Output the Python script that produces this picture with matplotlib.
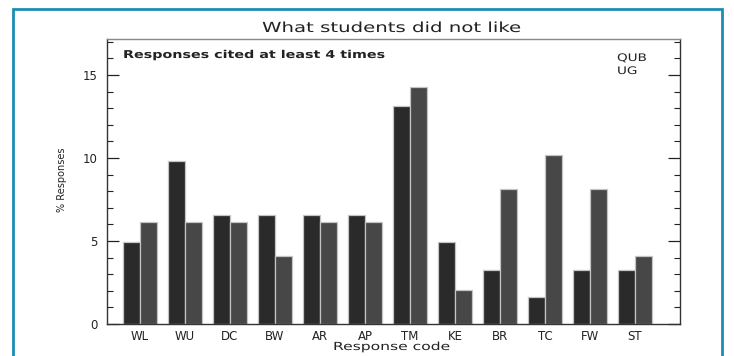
import matplotlib
matplotlib.use("Agg")
import matplotlib.pyplot as plt
from matplotlib.patches import Rectangle
from matplotlib.patheffects import AbstractPathEffect
from matplotlib.transforms import Affine2D
import numpy as np

# Response codes and percentage of responses per group
codes = ["WL", "WU", "DC", "BW", "AR", "AP", "TM", "KE", "BR", "TC", "FW", "ST"]
qub_pct = [4.92, 9.84, 6.56, 6.56, 6.56, 6.56, 13.11, 4.92, 3.28, 1.64, 3.28, 3.28]
ug_pct = [6.12, 6.12, 6.12, 4.08, 6.12, 6.12, 14.29, 2.04, 8.16, 10.20, 8.16, 4.08]
yticks = [0, 5, 10, 15]


class Widen(AbstractPathEffect):
    """Stretch glyphs horizontally from the text's left edge (wide plotter font look)."""

    def __init__(self, sx):
        super().__init__()
        self.sx = sx

    def draw_path(self, renderer, gc, tpath, affine, rgbFace=None):
        renderer.draw_path(gc, tpath, Affine2D().scale(self.sx, 1.0) + affine,
                           rgbFace)


W, H = 734, 356
fig = plt.figure(figsize=(W / 100, H / 100), dpi=100)
fig.patch.set_facecolor("white")

# Teal frame around the figure (open at the bottom)
fig.add_artist(Rectangle((13 / W, -0.1), (722 - 13) / W, 1.1 - 9 / H,
                         transform=fig.transFigure, fill=False,
                         edgecolor="#1d8db3", linewidth=2.0))

ax = fig.add_axes([107 / W, 1 - 324 / H, (680 - 107) / W, (324 - 39) / H])

x = np.arange(1, len(codes) + 1)
bw = 0.37
ax.bar(x - 0.195, qub_pct, width=bw, color="#2a2a2a", edgecolor="#c4c4c4",
       linewidth=0.9)
ax.bar(x + 0.195, ug_pct, width=bw, color="#474747", edgecolor="#c4c4c4",
       linewidth=0.9)

ax.set_xlim(0.267, 13.0)
ax.set_ylim(0, 17.17)

ax.set_xticks(x)
ax.set_xticklabels(codes, fontsize=8.5, color="#222222")
ax.tick_params(axis="x", length=0, pad=4)

ax.set_yticks(yticks)
ax.set_yticks(np.arange(0, 18, 1), minor=True)
ax.tick_params(axis="y", which="major", direction="in", length=8.5, width=0.9,
               right=True, labelsize=8.5, pad=7, colors="#222222")
ax.tick_params(axis="y", which="minor", direction="in", length=4.5, width=0.8,
               right=True, colors="#222222")

for side in ["left", "right", "bottom"]:
    ax.spines[side].set_color("#333333")
    ax.spines[side].set_linewidth(1.0)
ax.spines["top"].set_color("#888888")
ax.spines["top"].set_linewidth(1.0)

fig.text(262 / W, 1 - 28 / H, "What students did not like", ha="left",
         va="center", fontsize=10, color="#222222",
         path_effects=[Widen(1.42)])
fig.text(123 / W, 1 - 55 / H, "Responses cited at least 4 times", ha="left",
         va="center", fontsize=7.8, fontweight="bold", color="#222222",
         path_effects=[Widen(1.32)])
fig.text(617 / W, 1 - 58 / H, "QUB", ha="left", va="center", fontsize=7.5,
         color="#222222", path_effects=[Widen(1.3)])
fig.text(617 / W, 1 - 71 / H, "UG", ha="left", va="center", fontsize=7.5,
         color="#222222", path_effects=[Widen(1.3)])
fig.text(62 / W, 1 - 180 / H, "% Responses", ha="center", va="center",
         rotation=90, fontsize=7, color="#222222")
fig.text(333 / W, 1 - 347 / H, "Response code", ha="left", va="center",
         fontsize=8, color="#222222", path_effects=[Widen(1.4)])

fig.savefig("out.png", dpi=100, facecolor="white")
